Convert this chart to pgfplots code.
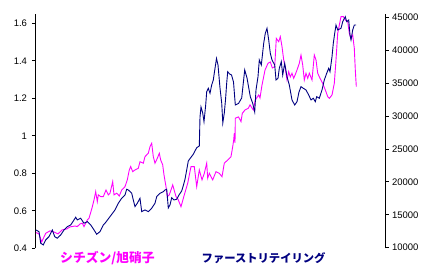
\documentclass[border=0pt]{standalone}
\usepackage{pgfplots}
\pgfplotsset{compat=1.18}
\usepackage{fontspec}
\setmainfont{Liberation Sans}
\newfontfamily\jp{Noto Sans CJK JP}
\definecolor{mag}{RGB}{255,0,255}
\definecolor{nav}{RGB}{0,0,128}

\pgfplotsset{
  base/.style={
    at={(0pt,0pt)}, anchor=south west,
    scale only axis, width=349.5pt, height=234.3pt,
    xmin=35.5, xmax=385,
    axis x line=none,
    axis line style={-, black, line width=0.8pt},
    tick align=outside, major tick length=3.5pt,
    tick style={black, line width=0.8pt},
    ticklabel style={font=\fontsize{9.5}{10}\selectfont},
    /pgf/number format/assume math mode=true,
    clip=false,
  }
}

\begin{document}
\begin{tikzpicture}
\useasboundingbox (-35.5pt,-23.7pt) rectangle (394.5pt,248.3pt);
\begin{axis}[base,
  axis y line*=left,
  ymin=0.4, ymax=1.65,
  ytick={0.4,0.6,0.8,1,1.2,1.4,1.6},
  yticklabels={0.4,0.6,0.8,1,1.2,1.4,1.6},
  yticklabel style={xshift=-1.5pt},
]
\addplot[mag, line width=0.9pt] coordinates {
(36,0.484)(39,0.477)(41.7,0.434)(45.7,0.480)(50,0.493)(54,0.487)(58,0.477)(62,0.498)
(66.7,0.503)(70,0.514)(75,0.519)(77.3,0.516)(80,0.530)(82.3,0.534)(84,0.516)(87.3,0.551)
(89,0.560)(92,0.615)(94,0.658)(95.7,0.702)(97.3,0.649)(98.3,0.685)(100.7,0.676)(103.3,0.676)
(106,0.711)(108.3,0.685)(110,0.694)(112.7,0.756)(114,0.685)(116.7,0.694)(119.3,0.679)(121.7,0.711)
(125,0.729)(127.3,0.765)(129.3,0.818)(130.7,0.836)(132.7,0.809)(135,0.818)(138.3,0.827)(140,0.862)
(143.3,0.854)(145,0.889)(148.3,0.907)(150,0.942)(151.7,0.960)(153.3,0.889)(155,0.854)(157.3,0.880)
(159.3,0.907)(160.7,0.871)(162.7,0.845)(164,0.791)(166,0.729)(167.3,0.676)(169.3,0.685)(172.7,0.738)
(176,0.676)(178,0.662)(181,0.622)(184.3,0.685)(187.7,0.747)(191,0.836)(194.3,0.836)(196.7,0.729)
(199.3,0.818)(202,0.765)(204.3,0.800)(206.7,0.854)(207.7,0.774)(209.3,0.800)(212.7,0.765)(216,0.809)
(219.3,0.800)(222,0.782)(224.3,0.854)(227.7,0.871)(231,0.889)(232.7,0.942)(233.7,0.978)(234.3,1.014)
(235,0.962)(235.3,1.094)(238.5,1.101)(241,1.076)(242.3,1.120)(245,1.138)(248.3,1.147)(250,1.165)
(253.3,1.138)(255.3,1.191)(258.7,1.218)(260,1.202)(262,1.271)(265,1.351)(268,1.387)(270.3,1.394)
(272.3,1.362)(274.7,1.369)(276.3,1.520)(278.7,1.502)(280.3,1.529)(282,1.476)(283.7,1.405)(285.3,1.360)
(287,1.298)(288.7,1.342)(290.3,1.314)(292,1.334)(293.7,1.307)(295.5,1.330)(297,1.351)(299.3,1.387)
(301,1.431)(302.7,1.378)(304.3,1.298)(306,1.334)(307.7,1.307)(309.3,1.334)(312,1.298)(314.3,1.431)
(316,1.405)(317.7,1.334)(320,1.307)(322.7,1.280)(325.3,1.245)(327.7,1.209)(329.3,1.200)(332,1.218)
(334.3,1.280)(336,1.405)(337.7,1.547)(341,1.636)(343.3,1.636)(345.3,1.618)(347.7,1.609)(349.3,1.547)
(351,1.520)(352.7,1.538)(354.3,1.467)(355.3,1.351)(356.3,1.262)
};
\node[anchor=west, text=mag, inner sep=0pt, font=\jp\bfseries\fontsize{12.8}{13}\selectfont]
  at (axis description cs:0.0701,-0.0427) {シチズン/旭硝子};
\node[anchor=west, text=nav, inner sep=0pt, font=\jp\bfseries\fontsize{11.3}{12}\selectfont]
  at (axis description cs:0.475,-0.0427) {ファーストリテイリング};
\end{axis}
\begin{axis}[base,
  axis y line*=right,
  ymin=9900, ymax=45500,
  ytick={10000,15000,20000,25000,30000,35000,40000,45000},
  scaled y ticks=false,
  /pgf/number format/set thousands separator={},
]
\addplot[nav, line width=0.9pt] coordinates {
(35.7,12690)(39,12431)(40.7,10669)(43.3,10411)(45.7,11171)(49,11672)(52.3,12690)(54.7,11672)
(57.3,11429)(60.7,11930)(64,12690)(67.3,13191)(70.7,13449)(74,14209)(75.7,14619)(77.3,14209)
(80.7,14467)(84,13707)(87.3,13950)(90.7,13449)(94,12690)(96.7,12036)(100,12431)(103.3,13449)
(105,13707)(110,14710)(115,15728)(118.3,16745)(121.7,17505)(125,18006)(126.7,18872)(128.3,18766)
(131.7,18264)(133.3,17247)(135,16229)(137.3,16745)(140,17505)(141.7,15469)(145,15728)(148.3,15469)
(151.7,15986)(155,16745)(156.7,17748)(160,18264)(163.3,18507)(165,18766)(166.7,18872)(168.3,16031)
(170,16487)(171.7,17596)(174,17247)(176.7,17353)(179,18006)(181.7,18614)(183.5,19525)(185,20391)
(186.7,21804)(188.3,23171)(190.5,23626)(193.3,24188)(196.7,25191)(199.3,25449)(200,29854)(201,31373)
(202.7,30462)(204,29140)(205.7,31677)(206.7,33697)(208.3,34214)(210,33454)(211.7,34715)(213.3,35475)
(214.5,36735)(216.5,38740)(218,37753)(220,34259)(221.7,31981)(222.8,28943)(224.3,30462)(225.5,32437)
(226.7,35019)(227.7,36735)(229.5,36386)(231.5,36234)(233.5,35171)(235.3,31677)(238.5,31905)(241.7,32740)
(244.7,36994)(247,35778)(250.3,32938)(252.7,31935)(254.7,30614)(256,33956)(258,35976)(259.3,38513)
(261.3,37753)(263.7,41049)(265.3,42568)(267,43328)(268.7,41551)(270.3,39530)(272,38513)(274.7,37753)
(276,35475)(278,35733)(279.3,37252)(281.3,38254)(282.7,36234)(284.7,38011)(287,35976)(289.3,34715)
(292,32437)(294.7,31677)(297,32178)(299,33652)(301,34457)(303.3,34214)(306,33956)(308.7,33196)
(311,32437)(313.3,32695)(315.3,32178)(316.7,32938)(319.3,32695)(322,33956)(324.3,35475)(326.7,36492)
(328.7,37252)(330,36735)(332,39014)(333.3,41049)(334.7,42568)(336,43829)(337.7,43070)(341,43328)
(342.7,44330)(345.3,45090)(346.7,44330)(348.7,44589)(350,42310)(351,41551)(352.7,43070)(354.3,43829)
(356,43829)
};
\end{axis}
\end{tikzpicture}
\end{document}
